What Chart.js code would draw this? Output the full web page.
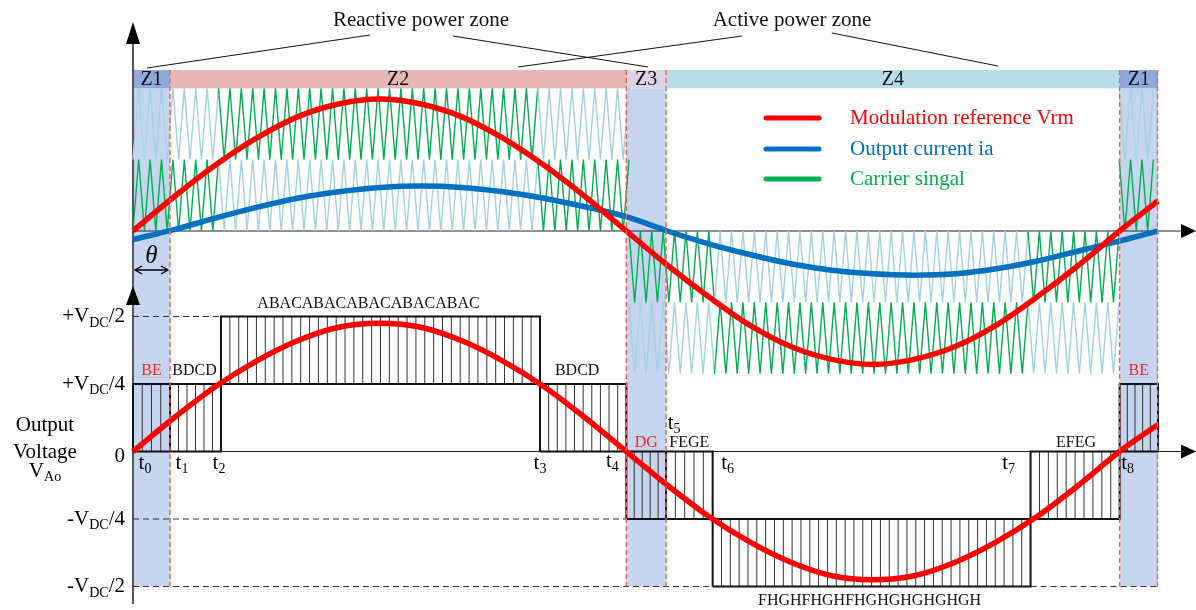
<!DOCTYPE html>
<html>
<head>
<meta charset="utf-8">
<script src="https://cdn.jsdelivr.net/npm/chart.js@4.4.1/dist/chart.umd.min.js"></script>
<style>
  html, body { margin: 0; padding: 0; background: #fff; overflow: hidden; }
  #wrap { width: 1196px; height: 610px; position: relative; }
</style>
</head>
<body>
<div id="wrap"><canvas id="c" width="1196" height="610"></canvas></div>
<script>
// ---- phase grid (degrees of the modulation reference) ----
const angles = [0, 15, 30, 45, 60, 75, 90, 105, 120, 135, 150, 165, 180,
                195, 210, 225, 240, 255, 270, 285, 300, 315, 330, 345, 360, 374];

// modulation reference Vrm, in carrier units (upper plot)
const refTop = [0, 0.24, 0.46, 0.65, 0.80, 0.89, 0.925, 0.89, 0.80, 0.65, 0.46, 0.24, 0,
                -0.24, -0.46, -0.66, -0.81, -0.90, -0.935, -0.90, -0.81, -0.66, -0.46, -0.24, 0, 0.21];

// output current ia, in carrier units (upper plot)
const currentTop = [-0.06, 0.01, 0.09, 0.165, 0.23, 0.275, 0.305, 0.315, 0.305, 0.275, 0.23, 0.17, 0.10,
                    0.0, -0.09, -0.165, -0.23, -0.275, -0.30, -0.31, -0.30, -0.265, -0.21, -0.14, -0.07, 0.0];

// modulation reference, in units of VDC (lower plot)
const refBottom = [0, 0.125, 0.24, 0.335, 0.41, 0.46, 0.475, 0.46, 0.41, 0.335, 0.24, 0.125, 0,
                   -0.125, -0.24, -0.335, -0.41, -0.46, -0.475, -0.46, -0.41, -0.335, -0.24, -0.125, 0, 0.10];

// ---- zones ----
const zoneEdges = [0, 13.5, 180, 194.5, 360, 374];
const zoneNames = ['Z1', 'Z2', 'Z3', 'Z4', 'Z1'];
const zoneFill  = ['#8eaadc', '#e6b9b8', '#dcd4e4', '#b7dde8', '#8eaadc'];
const shadedZones = [0, 2, 4];

// ---- switching instants t0..t8 (degrees) ----
const tInstants = [0, 13.5, 32.1, 148.5, 180, 194.5, 211.5, 327.5, 360];

// ---- output voltage levels (VDC units) per interval ----
const segStart = [0, 13.5, 32.1, 148.5, 180, 194.5, 211.5, 327.5, 360];
const segEnd   = [13.5, 32.1, 148.5, 180, 194.5, 211.5, 327.5, 360, 374];
const segLow   = [0, 0, 0.25, 0, -0.25, -0.25, -0.5, -0.25, 0];
const segHigh  = [0.25, 0.25, 0.5, 0.25, 0, 0, -0.25, 0, 0.25];
const segCodes = ['BE', 'BDCD', 'ABACABACABACABACABAC', 'BDCD', 'DG', 'FEGE',
                  'FHGHFHGHFHGHGHGHGHGH', 'EFEG', 'BE'];
const segCodeRed = [true, false, false, false, true, false, false, false, true];
const hatchCounts = [4, 6, 36, 10, 5, 5, 36, 10, 5];

// ---- carriers: level-shifted bands and the span where each band is the active one ----
const carrierPeriod = 4.16;
const carrierBands = [[0.5, 1], [0, 0.5], [-0.5, 0], [-1, -0.5]];
const bandExtent = [[[0, 180], [360, 374]], [[0, 180], [360, 374]], [[180, 360]], [[180, 360]]];
const bandActive = [[[32.1, 148.5]], [[0, 32.1], [148.5, 180], [360, 374]],
                    [[180, 211.5], [327.5, 360]], [[211.5, 327.5]]];

// ---- vertical axis ticks of the lower plot ----
const voltTicks = [0.5, 0.25, 0, -0.25, -0.5];
const voltTickText = ['+V|DC|/2', '+V|DC|/4', '0', '-V|DC|/4', '-V|DC|/2'];

const RED = '#ff0000', BLUE = '#0070c0', GREEN = '#00b050', LBLUE = '#a3d3e1';
const SERIF = '"Liberation Serif", "Times New Roman", serif';

const xy = (xs, ys) => xs.map((x, i) => ({ x, y: ys[i] }));
const inRanges = (v, rs) => rs.some(([a, b]) => v >= a && v <= b);

function carrierPoints(band) {
  const [lo, hi] = carrierBands[band];
  const pts = [];
  for (let k = 0; k * carrierPeriod / 2 <= 374.001; k++) {
    pts.push({ x: k * carrierPeriod / 2, y: k % 2 === 0 ? lo : hi });
  }
  return pts;
}

function boxPoints() {
  const pts = [];
  segStart.forEach((s, i) => {
    const e = segEnd[i], lo = segLow[i], hi = segHigh[i];
    pts.push({ x: s, y: lo }, { x: s, y: hi }, { x: e, y: hi }, { x: e, y: lo }, { x: s, y: lo }, { x: s, y: null });
  });
  return pts;
}

function hatchPoints() {
  const pts = [];
  segStart.forEach((s, i) => {
    const e = segEnd[i], n = hatchCounts[i];
    for (let k = 1; k < n; k++) {
      const x = s + (e - s) * k / n;
      pts.push({ x, y: segLow[i] }, { x, y: segHigh[i] }, { x, y: null });
    }
  });
  return pts;
}

// dashed guide lines at the +/-VDC levels
const guides = [[0, 32.1, 0.5], [0, 180, -0.25], [0, 211.5, -0.5], [327.5, 374, -0.5]];
function guidePoints() {
  const pts = [];
  guides.forEach(([a, b, v]) => pts.push({ x: a, y: v }, { x: b, y: v }, { x: b, y: null }));
  return pts;
}

const carrierSets = carrierBands.map((_, b) => ({
  data: carrierPoints(b), yAxisID: 'yTop', borderWidth: 1.4, pointRadius: 0, showLine: true,
  borderColor: LBLUE, order: 20, clip: 4,
  segment: {
    borderColor: c => {
      const m = (c.p0.parsed.x + c.p1.parsed.x) / 2;
      if (!inRanges(m, bandExtent[b])) return 'rgba(0,0,0,0)';
      return inRanges(m, bandActive[b]) ? GREEN : LBLUE;
    }
  }
}));

const backdrop = {
  id: 'backdrop',
  beforeDatasetsDraw(chart) {
    const { ctx, scales: { x, yTop, yBot } } = chart;
    const bandTop = yTop.getPixelForValue(1.128), bandBot = yTop.getPixelForValue(1);
    const floor = yBot.getPixelForValue(-0.5);
    ctx.save();
    // shaded zones
    ctx.fillStyle = '#c6d5ee';
    shadedZones.forEach(z => {
      const a = x.getPixelForValue(zoneEdges[z]), b = x.getPixelForValue(zoneEdges[z + 1]);
      ctx.fillRect(a, bandBot, b - a, floor - bandBot);
    });
    // zone title band
    zoneNames.forEach((n, z) => {
      const a = x.getPixelForValue(zoneEdges[z]), b = x.getPixelForValue(zoneEdges[z + 1]);
      ctx.fillStyle = zoneFill[z];
      ctx.fillRect(a, bandTop, b - a, bandBot - bandTop);
    });
    // axes
    const x0 = x.getPixelForValue(0);
    const arrowR = 1196;
    ctx.strokeStyle = '#555'; ctx.lineWidth = 2;
    ctx.beginPath(); ctx.moveTo(x0, 40); ctx.lineTo(x0, 604); ctx.stroke();
    ctx.strokeStyle = '#222'; ctx.lineWidth = 1.2;
    [yTop.getPixelForValue(0), yBot.getPixelForValue(0)].forEach(py => {
      ctx.beginPath(); ctx.moveTo(x0, py); ctx.lineTo(arrowR - 12, py); ctx.stroke();
      ctx.fillStyle = '#000';
      ctx.beginPath(); ctx.moveTo(arrowR, py); ctx.lineTo(arrowR - 15, py - 7); ctx.lineTo(arrowR - 15, py + 7); ctx.closePath(); ctx.fill();
    });
    ctx.fillStyle = '#000';
    [[22, 44], [286, 305]].forEach(([tip, base]) => {
      ctx.beginPath(); ctx.moveTo(x0, tip); ctx.lineTo(x0 - 7, base); ctx.lineTo(x0 + 7, base); ctx.closePath(); ctx.fill();
    });
    ctx.restore();
  },
  afterDatasetsDraw(chart) {
    const { ctx, scales: { x, yTop, yBot } } = chart;
    const bandTop = yTop.getPixelForValue(1.128), bandBot = yTop.getPixelForValue(1);
    const floor = yBot.getPixelForValue(-0.5);
    ctx.save();
    // zone boundary markers
    ctx.strokeStyle = '#ff5a5a'; ctx.lineWidth = 1.4; ctx.setLineDash([5, 3]);
    zoneEdges.slice(1).forEach(e => {
      const px = Math.min(x.getPixelForValue(e), 1157.5);
      ctx.beginPath(); ctx.moveTo(px, bandTop); ctx.lineTo(px, floor); ctx.stroke();
    });
    ctx.setLineDash([]);

    const font = (s, it) => (it ? 'italic ' : '') + s + 'px ' + SERIF;
    function rich(str, px, py, align, size, color) {
      const parts = str.split('|').map((t, i) => ({ t, sub: i % 2 === 1 }));
      const sub = Math.round(size * 0.66);
      let w = 0;
      parts.forEach(p => { ctx.font = font(p.sub ? sub : size); w += ctx.measureText(p.t).width; });
      let cx = align === 'right' ? px - w : align === 'center' ? px - w / 2 : px;
      ctx.textAlign = 'left'; ctx.textBaseline = 'middle'; ctx.fillStyle = color;
      parts.forEach(p => {
        ctx.font = font(p.sub ? sub : size);
        ctx.fillText(p.t, cx, p.sub ? py + size * 0.32 : py);
        cx += ctx.measureText(p.t).width;
      });
    }

    // zone names
    zoneNames.forEach((n, z) => {
      const c = (x.getPixelForValue(zoneEdges[z]) + x.getPixelForValue(zoneEdges[z + 1])) / 2;
      rich(n, c, (bandTop + bandBot) / 2 + 1, 'center', 20, '#111');
    });

    // zone group titles with leader lines
    rich('Reactive power zone', 421, 20, 'center', 21, '#111');
    rich('Active power zone', 792, 20, 'center', 21, '#111');
    ctx.strokeStyle = '#111'; ctx.lineWidth = 1;
    [[5.1, 68, 86.5, 35], [116.8, 36, 187.9, 67], [140.5, 67, 222.2, 36], [255, 33, 315.6, 66]].forEach(([a, ya, b, yb]) => {
      ctx.beginPath(); ctx.moveTo(x.getPixelForValue(a), ya); ctx.lineTo(x.getPixelForValue(b), yb); ctx.stroke();
    });

    // legend
    [[RED, 'Modulation reference Vrm', 118], [BLUE, 'Output current ia', 149], [GREEN, 'Carrier singal', 179]].forEach(([col, txt, py]) => {
      ctx.strokeStyle = col; ctx.lineWidth = 5; ctx.lineCap = 'round';
      ctx.beginPath(); ctx.moveTo(766, py); ctx.lineTo(819, py); ctx.stroke();
      rich(txt, 850, py, 'left', 21, col);
    });
    ctx.lineCap = 'butt';

    // theta marker
    const xa = x.getPixelForValue(0), xb = x.getPixelForValue(13.5);
    ctx.font = font(25, true); ctx.fillStyle = '#000'; ctx.textAlign = 'center'; ctx.textBaseline = 'middle';
    ctx.fillText('θ', (xa + xb) / 2, 256);
    ctx.strokeStyle = '#000'; ctx.lineWidth = 1.3;
    ctx.beginPath(); ctx.moveTo(xa + 2, 270); ctx.lineTo(xb - 2, 270); ctx.stroke();
    ctx.beginPath();
    ctx.moveTo(xa + 9, 266); ctx.lineTo(xa + 2, 270); ctx.lineTo(xa + 9, 274);
    ctx.moveTo(xb - 9, 266); ctx.lineTo(xb - 2, 270); ctx.lineTo(xb - 9, 274);
    ctx.stroke();

    // voltage axis ticks
    voltTicks.forEach((v, i) => {
      const py = yBot.getPixelForValue(v) + (v === 0 ? 5 : 0);
      rich(voltTickText[i], 125, py, 'right', 21, '#000');
    });
    rich('Output', 45, 425, 'center', 21, '#000');
    rich('Voltage', 45, 452, 'center', 21, '#000');
    rich('V|Ao', 45, 471, 'center', 21, '#000');

    // switching instant labels
    const tOff = [[12, 463], [12, 463], [-2, 463], [0, 463], [-14, 461], [8, 423], [15, 463], [-22, 463], [8, 463]];
    tInstants.forEach((t, i) => {
      rich('t|' + i, x.getPixelForValue(t) + tOff[i][0], tOff[i][1], 'center', 21, '#000');
    });

    // switching state sequences
    const codeShift = [0, -1, -12, -6, 0, 0, -2, 1, 0];
    segCodes.forEach((code, i) => {
      const cx = (x.getPixelForValue(segStart[i]) + x.getPixelForValue(segEnd[i])) / 2 + codeShift[i];
      let py;
      if (segCodes[i].startsWith('FHGH')) py = yBot.getPixelForValue(segLow[i]) + 14;
      else if (segHigh[i] === 0) py = yBot.getPixelForValue(0) - 9;
      else py = yBot.getPixelForValue(segHigh[i]) - 13;
      rich(code, cx, py, 'center', 16, segCodeRed[i] ? '#ff2020' : '#111');
    });
    ctx.restore();
  }
};

new Chart(document.getElementById('c'), {
  type: 'scatter',
  data: {
    datasets: [
      { data: xy(angles, refBottom), yAxisID: 'yBot', borderColor: RED, borderWidth: 5.5, pointRadius: 0, showLine: true,
        cubicInterpolationMode: 'monotone', order: 0, clip: 6 },
      { data: xy(angles, refTop), yAxisID: 'yTop', borderColor: RED, borderWidth: 5.5, pointRadius: 0, showLine: true,
        cubicInterpolationMode: 'monotone', order: 1, clip: 6 },
      { data: xy(angles, currentTop), yAxisID: 'yTop', borderColor: BLUE, borderWidth: 5.5, pointRadius: 0, showLine: true,
        cubicInterpolationMode: 'monotone', order: 2, clip: 6 },
      { data: boxPoints(), yAxisID: 'yBot', borderColor: '#111', borderWidth: 2, pointRadius: 0, showLine: true, order: 5, clip: 4 },
      { data: hatchPoints(), yAxisID: 'yBot', borderColor: '#333', borderWidth: 1, pointRadius: 0, showLine: true, order: 6, clip: 4 },
      { data: guidePoints(), yAxisID: 'yBot', borderColor: '#333', borderWidth: 1, borderDash: [6, 4], pointRadius: 0, showLine: true, order: 7, clip: 4 },
      ...carrierSets
    ]
  },
  options: {
    responsive: false,
    animation: false,
    devicePixelRatio: 1,
    events: [],
    layout: { padding: { left: 133, right: 38, top: 10, bottom: 10 } },
    plugins: { legend: { display: false }, tooltip: { enabled: false } },
    scales: {
      x: { type: 'linear', min: 0, max: 374, display: false },
      yTop: { type: 'linear', position: 'left', min: -2.5859, max: 1.5487, display: false },
      yBot: { type: 'linear', position: 'right', min: -0.55, max: 1.6352, display: false }
    }
  },
  plugins: [backdrop]
});
</script>
</body>
</html>
